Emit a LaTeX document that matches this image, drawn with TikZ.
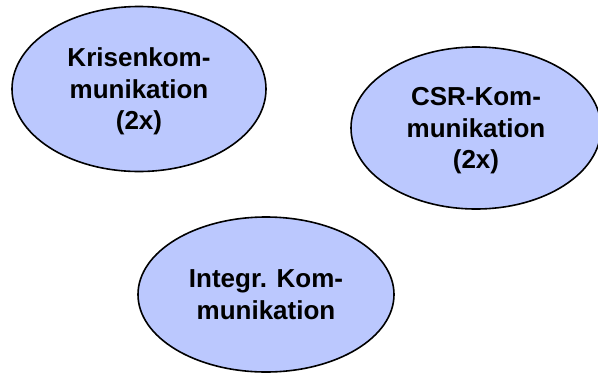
\documentclass[tikz,border=0pt]{standalone}
\usepackage{fontspec}
\setmainfont{Liberation Sans}
\usetikzlibrary{shapes.geometric}
\definecolor{topicblue}{RGB}{187,200,254}
\tikzset{
	every node/.style = {font=\bfseries\fontsize{26}{31.5}\selectfont},
	topic/.style = {ellipse, draw, line width=1.6pt, fill=topicblue, align=center, inner sep=0pt}
}
\begin{document}
\begin{tikzpicture}[x=1pt, y=-1pt]
		\useasboundingbox (0,0) rectangle (598,376);
		% top left
		\node[topic, text depth=0pt, minimum width=254pt, minimum height=165pt] (krise) at (139,89) {Krisenkom-\\munikation\\(2x)};
		% right
		\node[topic, text depth=0pt, minimum width=250pt, minimum height=162pt] (csr) at (476,128) {CSR-Kom-\\munikation\\(2x)};
		% bottom
		\node[topic, minimum width=256pt, minimum height=155pt] (integr) at (266,294.5) {Integr. Kom-\\munikation};
	\end{tikzpicture}
\end{document}
